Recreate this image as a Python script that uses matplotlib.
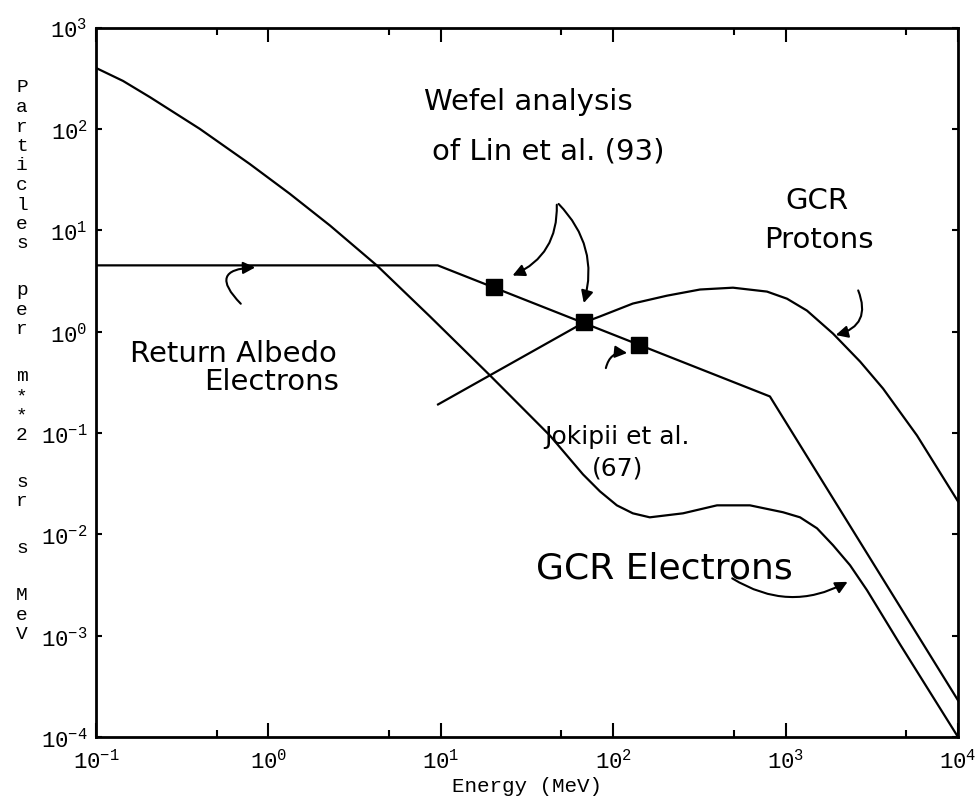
import numpy as np
import matplotlib.pyplot as plt
from matplotlib.ticker import FixedLocator, FuncFormatter, NullFormatter

# GCR electrons
e_E = [0.1, 0.1435, 0.206, 0.40, 0.78, 1.33, 2.28, 4.27, 8.65, 19.3, 43, 66.8, 83.8, 105, 130, 163,
       254, 400, 621, 966, 1213, 1521, 1884, 2365, 2965, 4613, 1e4]
e_F = [399, 297, 205, 100, 45, 22.9, 11.1, 4.47, 1.41, 0.369, 0.094, 0.039, 0.0265, 0.0193, 0.0161, 0.0147,
       0.0161, 0.0193, 0.0193, 0.0165, 0.0147, 0.01146, 0.0078, 0.00495, 0.00281, 8.2e-4, 1e-4]

# return albedo electrons
alb_E = [0.1, 9.6, 811, 1e4]
alb_F = [4.5, 4.5, 0.229, 2.3e-4]

# measured points on the albedo line
pts_E = [20.4, 67.7, 141]
pts_F = [2.77, 1.23, 0.73]

# GCR protons
p_E = [9.64, 67.7, 83.8, 130, 205, 319, 495, 780, 1019, 1330, 1884, 2704, 3675, 5781, 1e4]
p_F = [0.191, 1.23, 1.41, 1.89, 2.26, 2.60, 2.71, 2.48, 2.11, 1.61, 0.955, 0.506, 0.274, 0.0944, 0.0211]

xticks = [1e-1, 1e0, 1e1, 1e2, 1e3, 1e4]
yticks = [1e-4, 1e-3, 1e-2, 1e-1, 1e0, 1e1, 1e2, 1e3]

mono = 'Liberation Mono'
hand = 'DejaVu Sans'

fig = plt.figure(figsize=(9.79, 8.12), dpi=100)
ax = fig.add_axes([96/979, 1-738/812, (958-96)/979, (738-28.5)/812])

ax.plot(e_E, e_F, color='k', lw=1.6)
ax.plot(alb_E, alb_F, color='k', lw=1.6)
ax.plot(p_E, p_F, color='k', lw=1.6)
ax.plot(pts_E, pts_F, 's', color='k', ms=11)

ax.set_xscale('log')
ax.set_yscale('log')
ax.set_xlim(1e-1, 1e4)
ax.set_ylim(1e-4, 1e3)

fmt = FuncFormatter(lambda v, p: r'$\mathregular{10^{%d}}$' % round(np.log10(v)))
ax.xaxis.set_major_locator(FixedLocator(xticks))
ax.yaxis.set_major_locator(FixedLocator(yticks))
ax.xaxis.set_minor_locator(FixedLocator([0.5, 5, 50, 500, 5000]))
ax.yaxis.set_minor_locator(FixedLocator([]))
ax.xaxis.set_major_formatter(fmt)
ax.yaxis.set_major_formatter(fmt)
ax.xaxis.set_minor_formatter(NullFormatter())
ax.tick_params(axis='x', which='major', direction='in', length=10, width=1.5, top=True, pad=8)
ax.tick_params(axis='x', which='minor', direction='in', length=5, width=1.5, top=True)
ax.tick_params(axis='y', which='major', direction='in', length=4, width=1.5, right=True, pad=6)
for lab in ax.get_xticklabels() + ax.get_yticklabels():
    lab.set_fontfamily(mono)
    lab.set_fontsize(16)
for s in ax.spines.values():
    s.set_linewidth(2)

ax.set_xlabel('Energy (MeV)', fontfamily=mono, fontsize=15, labelpad=3)

# vertical stacked y label
ylab = ['Particles', 'per', 'm**2', 'sr', 's', 'MeV']
y = 88
for w in ylab:
    for ch in w:
        fig.text(22/979, 1-y/812, ch, fontfamily=mono, fontsize=14, ha='center', va='center')
        y += 19.5
    y += 47 - 19.5

# hand written notes
tk = dict(fontfamily=hand, fontsize=21, color='k')
ax.text(0.38, 0.885, 'Wefel analysis', transform=ax.transAxes, **tk)
ax.text(0.39, 0.815, 'of Lin et al. (93)', transform=ax.transAxes, **tk)
ax.text(0.80, 0.745, 'GCR', transform=ax.transAxes, **tk)
ax.text(0.775, 0.69, 'Protons', transform=ax.transAxes, **tk)
ax.text(0.04, 0.53, 'Return Albedo', transform=ax.transAxes, **tk)
ax.text(0.125, 0.49, 'Electrons', transform=ax.transAxes, **tk)
ax.text(0.52, 0.415, 'Jokipii et al.', transform=ax.transAxes, fontfamily=hand, fontsize=18)
ax.text(0.575, 0.37, '(67)', transform=ax.transAxes, fontfamily=hand, fontsize=18)
ax.text(0.51, 0.225, 'GCR Electrons', transform=ax.transAxes, fontfamily=hand, fontsize=26)

ap = dict(arrowstyle='-|>', color='k', lw=1.5, mutation_scale=18)
ax.annotate('', xy=(25.2, 3.48), xytext=(47, 19), arrowprops=dict(connectionstyle='arc3,rad=-0.35', **ap))
ax.annotate('', xy=(66.8, 1.8), xytext=(47, 19), arrowprops=dict(connectionstyle='arc3,rad=-0.3', **ap))
ax.annotate('', xy=(125, 0.61), xytext=(90, 0.41), arrowprops=dict(connectionstyle='arc3,rad=-0.5', **ap))
ax.annotate('', xy=(0.87, 4.3), xytext=(0.71, 1.8), arrowprops=dict(connectionstyle='arc3,rad=-1.2', **ap))
ax.annotate('', xy=(1884, 0.91), xytext=(2600, 2.7), arrowprops=dict(connectionstyle='arc3,rad=-0.6', **ap))
ax.annotate('', xy=(2365, 0.0035), xytext=(475, 0.0038), arrowprops=dict(connectionstyle='arc3,rad=0.3', **ap))

fig.savefig('out.png', dpi=100)
